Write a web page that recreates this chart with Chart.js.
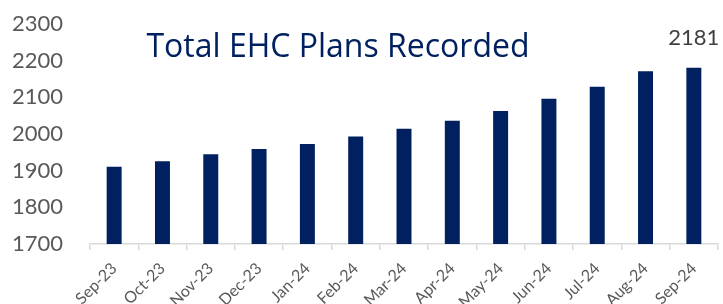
<!DOCTYPE html>
<html>
<head>
<meta charset="utf-8">
<script src="https://cdn.jsdelivr.net/npm/chart.js@4.4.1/dist/chart.umd.min.js"></script>
<style>
  html, body { margin: 0; padding: 0; background: #ffffff; overflow: hidden; }
  #wrap { width: 723px; height: 304px; position: relative; }
</style>
</head>
<body>
<div id="wrap"><canvas id="c" width="723" height="304"></canvas></div>
<script>
const categories = ["Sep-23","Oct-23","Nov-23","Dec-23","Jan-24","Feb-24","Mar-24","Apr-24","May-24","Jun-24","Jul-24","Aug-24","Sep-24"];
const plansRecorded = [1911, 1926, 1945, 1959, 1973, 1993, 2014, 2036, 2063, 2096, 2129, 2171, 2181];
const titleText = "Total EHC Plans Recorded";
const yMin = 1700, yMax = 2300, yStep = 100;

const overlayPlugin = {
  id: 'overlay',
  afterDatasetsDraw(chart) {
    const ctx = chart.ctx;
    ctx.save();
    ctx.font = '32px "Open Sans"';
    ctx.fillStyle = '#002060';
    ctx.textAlign = 'center';
    ctx.textBaseline = 'alphabetic';
    ctx.fillText(titleText, 338, 57);
    const meta = chart.getDatasetMeta(0);
    const last = meta.data[meta.data.length - 1];
    ctx.font = '22px Lato';
    ctx.fillStyle = '#404040';
    ctx.textBaseline = 'bottom';
    ctx.fillText(String(plansRecorded[plansRecorded.length - 1]), last.x, last.y - 19);
    ctx.restore();
  }
};

new Chart(document.getElementById('c'), {
  type: 'bar',
  data: {
    labels: categories,
    datasets: [{
      data: plansRecorded,
      backgroundColor: '#002060',
      borderWidth: 0,
      categoryPercentage: 1.0,
      barPercentage: 0.31
    }]
  },
  options: {
    responsive: false,
    animation: false,
    layout: { padding: { top: 24, right: 5, left: 0, bottom: 0 } },
    plugins: { legend: { display: false }, tooltip: { enabled: false }, title: { display: false } },
    scales: {
      x: {
        offset: true,
        grid: { display: true, offset: true, drawOnChartArea: false, drawTicks: true, tickLength: 6, color: '#d9d9d9', lineWidth: 1.5 },
        border: { display: true, color: '#d9d9d9', width: 1.5 },
        ticks: { minRotation: 45, maxRotation: 45, autoSkip: false, padding: 9, color: '#595959', font: { family: 'Lato', size: 16 } },
        afterFit(scale) { scale.height = 60; scale.paddingLeft = 0; scale.paddingRight = 0; }
      },
      y: {
        min: yMin, max: yMax,
        grid: { display: false, drawTicks: false },
        border: { display: false },
        ticks: { stepSize: yStep, padding: 27, color: '#595959', font: { family: 'Lato', size: 22 },
                 callback: (v) => String(v) },
        afterFit(scale) { scale.width = 90; scale.paddingTop = 0; scale.paddingBottom = 0; }
      }
    }
  },
  plugins: [overlayPlugin]
});
</script>
</body>
</html>
